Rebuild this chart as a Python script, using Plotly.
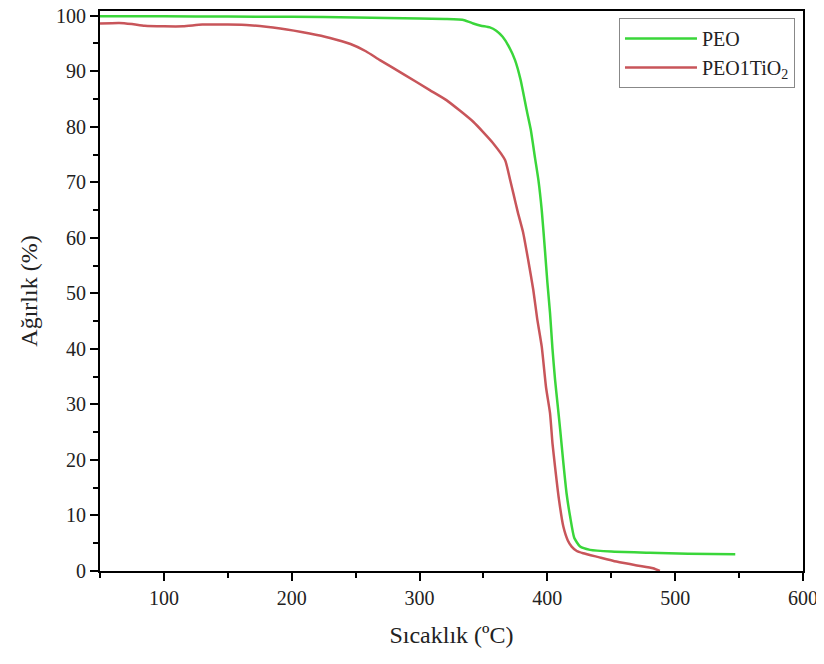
import plotly.graph_objects as go

peo_t = [50, 100, 150, 200, 250, 300, 320, 335, 342, 348, 355, 360, 365, 370, 374.7, 379, 383.8, 387, 390.4, 393, 395.6, 398.2, 400, 402.1, 404, 406, 408, 410, 412.5, 415, 417.8, 421, 425.6, 433.4, 450, 480, 510, 547]
peo_w = [99.9, 99.9, 99.85, 99.8, 99.7, 99.5, 99.4, 99.2, 98.6, 98.2, 97.9, 97.3, 96.2, 94.4, 92.0, 88.5, 83.0, 79.5, 74.3, 70.4, 65.0, 57.5, 52.0, 46.4, 40.0, 34.5, 30.0, 25.5, 19.5, 14.0, 9.8, 6.0, 4.4, 3.8, 3.5, 3.3, 3.1, 3.0]

tio_t = [50, 65, 75, 85, 100, 115, 130, 150, 167, 191, 214, 230, 246, 258, 269, 288, 308, 321, 342, 357.7, 366.9, 370.8, 373.4, 377, 381, 385, 389, 392, 395.6, 399, 402.1, 404, 406, 409, 412.5, 416, 419, 423, 428, 440, 454, 470, 482.7, 488]
tio_w = [98.6, 98.7, 98.5, 98.2, 98.1, 98.1, 98.4, 98.4, 98.3, 97.7, 96.8, 96.0, 94.9, 93.6, 92.0, 89.4, 86.6, 84.8, 80.9, 77.0, 74.0, 70.5, 68.0, 64.5, 61.0, 56.0, 50.6, 45.5, 40.4, 33.0, 28.4, 23.0, 18.8, 13.0, 8.0, 5.5, 4.4, 3.6, 3.2, 2.5, 1.7, 1.0, 0.5, 0.0]

font = "Liberation Serif"

fig = go.Figure()
fig.add_trace(go.Scatter(x=peo_t, y=peo_w, mode="lines", name="PEO",
                         line=dict(color="#3ad63a", width=2.5, shape="spline", smoothing=0.5)))
fig.add_trace(go.Scatter(x=tio_t, y=tio_w, mode="lines", name="PEO1TiO<sub>2</sub>",
                         line=dict(color="#c8555a", width=2.5, shape="spline", smoothing=0.5)))

axis_common = dict(showline=True, linecolor="black", linewidth=2, mirror=True,
                   ticks="outside", ticklen=8, tickwidth=2, tickcolor="black",
                   showgrid=False, zeroline=False, automargin=False,
                   ticklabeloverflow="allow",
                   tickfont=dict(family=font, size=20, color="#222"))

fig.update_xaxes(range=[50, 600], dtick=100, tick0=0,
                 minor=dict(ticks="outside", ticklen=5, tickwidth=2, dtick=50, tick0=0, tickcolor="black"),
                 title=dict(text="Sıcaklık (ºC)", font=dict(family=font, size=24, color="#222"), standoff=18),
                 **axis_common)
fig.update_yaxes(range=[0, 100.85], dtick=10, tick0=0,
                 minor=dict(ticks="outside", ticklen=5, tickwidth=2, dtick=5, tick0=0, tickcolor="black"),
                 title=dict(text="Ağırlık (%)", font=dict(family=font, size=24, color="#222"), standoff=12),
                 **axis_common)

fig.update_layout(
    width=816, height=656,
    margin=dict(l=92, r=21, t=3, b=93, autoexpand=False),
    plot_bgcolor="white", paper_bgcolor="white",
    legend=dict(x=0.9886, y=0.9876, xanchor="right", yanchor="top",
                bgcolor="white", bordercolor="#888", borderwidth=1, itemwidth=72,
                font=dict(family=font, size=20, color="#222")),
)

fig.write_html("out.html")
